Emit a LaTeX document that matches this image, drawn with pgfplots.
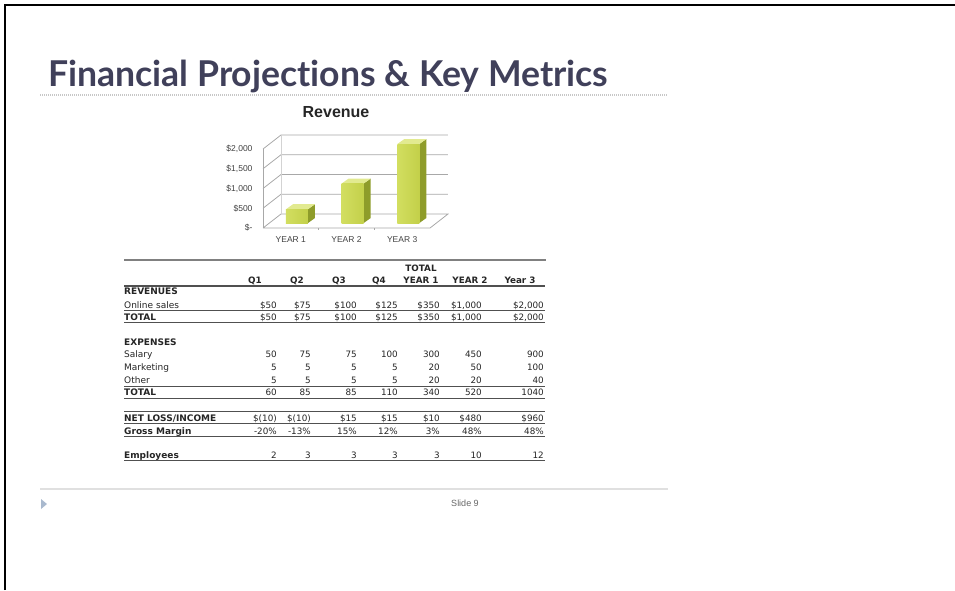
\documentclass[border=0pt]{standalone}
\usepackage{pgfplots}
\pgfplotsset{compat=1.18}
\usepackage{fontspec}
\setmainfont{Liberation Sans}
\newfontfamily\titlefont{Lato}[Ligatures=NoCommon]
\newfontfamily\tabfont{DejaVu Sans}
\definecolor{titlecol}{HTML}{40405A}
\definecolor{gridc}{HTML}{A8A8A8}
\definecolor{barL}{HTML}{D2DE60}
\definecolor{barM}{HTML}{E6EE96}
\definecolor{barR}{HTML}{C3D04A}
\definecolor{barside}{HTML}{8E9C2A}
\definecolor{bartop}{HTML}{E2EA90}
\definecolor{rulec}{HTML}{505050}
\definecolor{tabtext}{HTML}{252525}
\definecolor{tric}{HTML}{A9B9CE}
% geometry of the oblique projection, in axis units
\def\BXO{0.11}\def\BYO{125}\def\BW{0.395}\def\BDX{0.126}\def\BDY{127}
\newcommand\threedbar[2]{%
  \pgfmathsetmacro\xl{#1+\BXO-\BW/2}%
  \pgfmathsetmacro\xr{#1+\BXO+\BW/2}%
  \pgfmathsetmacro\xrr{\xr+\BDX}%
  \pgfmathsetmacro\xll{\xl+\BDX}%
  \pgfmathsetmacro\yb{\BYO}%
  \pgfmathsetmacro\yt{\BYO+#2}%
  \pgfmathsetmacro\ybb{\BYO+\BDY}%
  \pgfmathsetmacro\ytt{\BYO+#2+\BDY}%
  \edef\tmp{\noexpand\addplot[draw=none, fill=barside] coordinates {(\xr,\yb) (\xrr,\ybb) (\xrr,\ytt) (\xr,\yt)};
  \noexpand\addplot[draw=none, fill=bartop] coordinates {(\xl,\yt) (\xr,\yt) (\xrr,\ytt) (\xll,\ytt)};
  \noexpand\addplot[draw=none, left color=barL, middle color=barM, right color=barR] coordinates {(\xl,\yb) (\xr,\yb) (\xr,\yt) (\xl,\yt)};}%
  \tmp}
\tikzset{
  tl/.style={anchor=base west, inner sep=0pt, text=tabtext, font=\tabfont\fontsize{9}{10}\selectfont},
  tn/.style={anchor=base east, inner sep=0pt, text=tabtext, font=\tabfont\fontsize{8.8}{10}\selectfont},
  th/.style={anchor=base, inner sep=0pt, text=tabtext, font=\tabfont\bfseries\fontsize{8.8}{10}\selectfont},
}
% row: y (centre), label, 7 values
\newcommand\trow[9]{%
  \node[tl] at (124,-#1-3.3) {#2};
  \node[tn] at (277,-#1-3.3) {#3};
  \node[tn] at (311,-#1-3.3) {#4};
  \node[tn] at (357,-#1-3.3) {#5};
  \node[tn] at (398,-#1-3.3) {#6};
  \node[tn] at (440,-#1-3.3) {#7};
  \node[tn] at (482,-#1-3.3) {#8};
  \node[tn] at (544,-#1-3.3) {#9};
}
\newcommand\trule[2][0.9pt]{\draw[rulec, line width=#1] (124,-#2) -- (545,-#2);}
\newcommand\lb[1]{{\bfseries #1}}
\begin{document}
\begin{tikzpicture}[x=1pt,y=1pt]
\path[use as bounding box] (0,0) rectangle (955,-590);
% frame
\draw[black, line width=2.6pt] (5,-590) -- (5,-4.8) -- (955,-4.8);
% title
\node[anchor=base west, inner sep=0pt, text=titlecol] at (48,-86)
  {\resizebox{560pt}{!}{\titlefont\bfseries\fontsize{29}{30}\selectfont Financial Projections \& Key Metrics}};
\draw[black!22, line width=1.2pt, dash pattern=on 1pt off 1pt] (40,-95) -- (668,-95);
% chart title
\node[font=\bfseries\fontsize{16}{17}\selectfont, text=black!85] at (336,-112) {Revenue};
\begin{axis}[
  at={(263pt,-228pt)}, anchor=south west,
  scale only axis, width=167pt, height=79pt,
  xmin=0, xmax=3, ymin=0, ymax=2000,
  clip=false,
  axis line style={draw=none},
  major tick length=0pt,
  ytick={0,500,1000,1500,2000},
  yticklabels={{\$-},{\$500},{\$1,000},{\$1,500},{\$2,000}},
  xtick={0.5,1.5,2.5},
  xticklabels={YEAR 1,YEAR 2,YEAR 3},
  ticklabel style={font=\fontsize{8.5}{9}\selectfont, text=black!75},
  yticklabel style={xshift=-7pt},
  xticklabel style={yshift=-5pt},
]
% walls and floor
\addplot[gridc, line width=0.8pt] coordinates {(0,0) (3,0) (3.323,354) (0.323,354) (0,0)};
\addplot[gridc, line width=0.8pt] coordinates {(0,500) (0.323,854) (3.323,854)};
\addplot[gridc, line width=0.8pt] coordinates {(0,1000) (0.323,1354) (3.323,1354)};
\addplot[gridc, line width=0.8pt] coordinates {(0,1500) (0.323,1854) (3.323,1854)};
\addplot[gridc, line width=0.8pt] coordinates {(0,2000) (0.323,2354) (3.323,2354)};
\addplot[gridc, line width=0.8pt] coordinates {(0,0) (0,2000)};
\addplot[gridc!50, line width=0.6pt] coordinates {(0.323,354) (0.323,2354)};
\addplot[gridc, line width=0.6pt] coordinates {(1,0) (1,-60)};
\addplot[gridc, line width=0.6pt] coordinates {(2,0) (2,-60)};
% bars: category centre, revenue
\threedbar{0.5}{350}
\threedbar{1.5}{1000}
\threedbar{2.5}{2000}
\end{axis}
% table
\draw[black!50, line width=2.6pt] (124,-260) -- (546,-260);
\node[th] at (421,-268-3.3) {TOTAL};
\node[th] at (255,-280-3.3) {Q1};
\node[th] at (297,-280-3.3) {Q2};
\node[th] at (339,-280-3.3) {Q3};
\node[th] at (379,-280-3.3) {Q4};
\node[th] at (421,-280-3.3) {YEAR 1};
\node[th] at (470,-280-3.3) {YEAR 2};
\node[th] at (520,-280-3.3) {Year 3};
\trule[1.3pt]{286}
\node[tl] at (124,-291-3.3) {\lb{REVENUES}};
\trow{305}{Online sales}{\$50}{\$75}{\$100}{\$125}{\$350}{\$1,000}{\$2,000}
\trule{310}
\trow{317}{\lb{TOTAL}}{\$50}{\$75}{\$100}{\$125}{\$350}{\$1,000}{\$2,000}
\trule[1.3pt]{322.5}
\node[tl] at (124,-342-3.3) {\lb{EXPENSES}};
\trow{354}{Salary}{50}{75}{75}{100}{300}{450}{900}
\trow{367}{Marketing}{5}{5}{5}{5}{20}{50}{100}
\trow{380}{Other}{5}{5}{5}{5}{20}{20}{40}
\trule{386}
\trow{392}{\lb{TOTAL}}{60}{85}{85}{110}{340}{520}{1040}
\trule{398}
\trule{411}
\trow{418}{\lb{NET LOSS/INCOME}}{\$(10)}{\$(10)}{\$15}{\$15}{\$10}{\$480}{\$960}
\trule{423.5}
\trow{431}{\lb{Gross Margin}}{-20\%}{-13\%}{15\%}{12\%}{3\%}{48\%}{48\%}
\trule{436.5}
\trow{455}{\lb{Employees}}{2}{3}{3}{3}{3}{10}{12}
\trule{460.5}
% footer
\draw[black!12, line width=1.2pt] (40,-489) -- (668,-489);
\fill[tric] (41,-499) -- (47,-504) -- (41,-509) -- cycle;
\node[font=\fontsize{9}{10}\selectfont, text=black!60] at (465,-503) {Slide 9};
\end{tikzpicture}
\end{document}
